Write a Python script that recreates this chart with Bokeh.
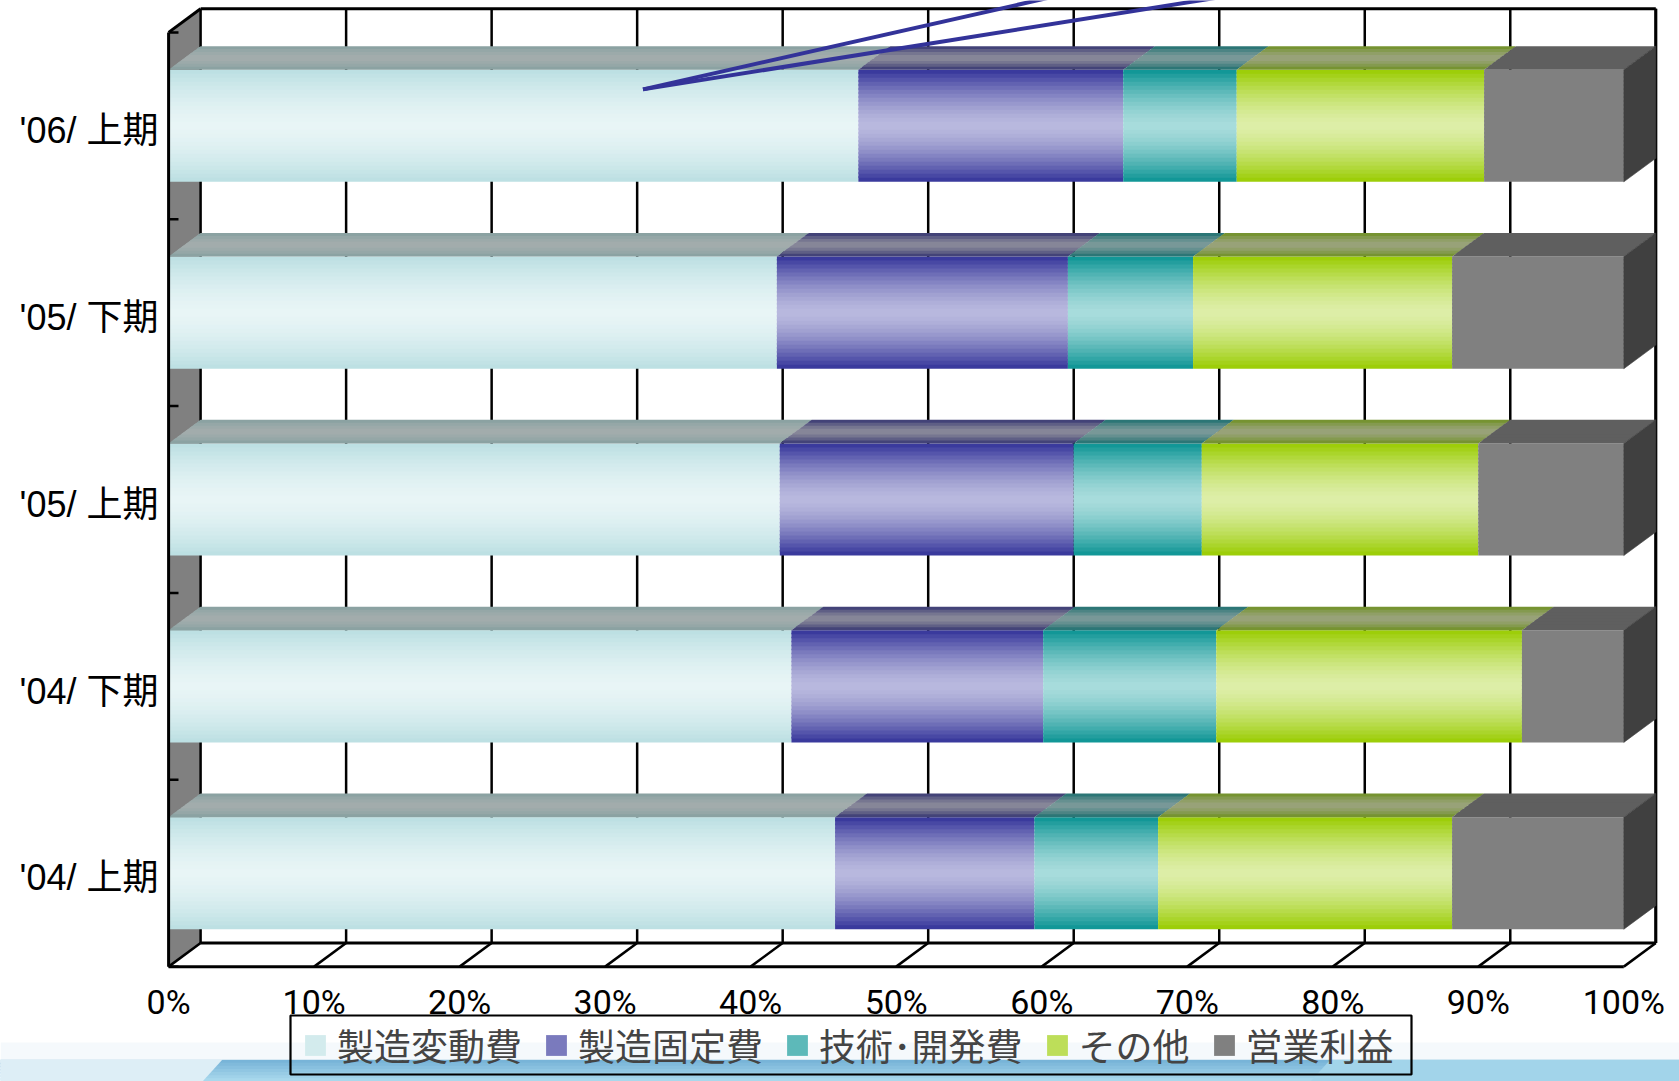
import numpy as np
from bokeh.plotting import figure
from bokeh.models import Range1d, ColumnDataSource, Legend, LegendItem
from bokeh.core.properties import value
from bokeh.embed import file_html
from bokeh.resources import INLINE

# ---- data: cost structure share (%) per half-year, bottom row first ----
categories = ["'04/ 上期", "'04/ 下期", "'05/ 上期", "'05/ 下期", "'06/ 上期"]
series_names = ["製造変動費", "製造固定費", "技術･開発費", "その他", "営業利益"]
variable_mfg = [45.8, 42.8, 42.0, 41.8, 47.4]
fixed_mfg = [13.7, 17.3, 20.2, 20.0, 18.2]
rnd_cost = [8.5, 11.9, 8.8, 8.6, 7.8]
other_cost = [20.2, 21.0, 19.0, 17.8, 17.0]
op_profit = [11.8, 7.0, 10.0, 11.8, 9.6]
x_ticks = list(range(0, 101, 10))
x_tick_labels = [f"{t}%" for t in x_ticks]

series_values = [variable_mfg, fixed_mfg, rnd_cost, other_cost, op_profit]

# face colours: (edge, centre) for front faces and top faces
front_colors = [("#BBDFE2", "#E8F5F6"), ("#333399", "#B9B9DE"), ("#0A9393", "#A8DCDC"),
                ("#99CC00", "#DDEEA8"), ("#808080", "#808080")]
top_colors = [("#86A0A0", "#A3ADAD"), ("#333370", "#8A8A9A"), ("#1A6E6E", "#7C9A9A"),
              ("#6E9020", "#9AA37C"), ("#5F5F5F", "#5F5F5F")]
side_color = "#404040"

# ---- canvas geometry (front plane in %, categories as integer rows) ----
W, H = 1679, 1081
X0_PX, PX_PER_PCT = 168.1, 14.552
Y0_PX, PX_PER_CAT = 872.7, 186.85
DX = 32.0 / PX_PER_PCT          # depth offset along x
DY = 23.6 / PX_PER_CAT          # depth offset along y
HALF = 0.3                      # half bar thickness
FLOOR, CEIL = -0.5, len(categories) - 0.5


def px_x(px):
    return (px - X0_PX) / PX_PER_PCT


def px_y(py):
    return (Y0_PX - py) / PX_PER_CAT


def hex_rgb(h):
    h = h.lstrip("#")
    return np.array([int(h[i:i + 2], 16) for i in (0, 2, 4)], float)


def mix(c_edge, c_mid, f):
    a, b = hex_rgb(c_edge), hex_rgb(c_mid)
    c = b + (a - b) * f
    return "#%02x%02x%02x" % tuple(int(round(v)) for v in c)


def shade(k, n):
    t = abs((k + 0.5) / n * 2 - 1)
    return t ** 1.5


p = figure(width=W, height=H,
           x_range=Range1d(px_x(0), px_x(W)), y_range=Range1d(px_y(H), px_y(0)),
           x_axis_type=None, y_axis_type=None, toolbar_location=None,
           output_backend="svg", min_border=0, outline_line_color=None,
           background_fill_color="white", border_fill_color="white")

# ---- backdrop band along the bottom edge ----
BAND_TOP = 1059
n_band = 7
bxs, bys, bcs = [], [], []
for i in range(n_band):
    y0 = BAND_TOP + (H - BAND_TOP) * i / n_band
    y1 = BAND_TOP + (H - BAND_TOP) * (i + 1) / n_band + 1.5
    bxs.append([px_x(0), px_x(W), px_x(W), px_x(0)])
    bys.append([px_y(y0), px_y(y0), px_y(y1), px_y(y1)])
    bcs.append(mix("#78B4D8", "#A8D8EC", 1 - i / (n_band - 1)))
# pale left end and lighter right end of the band
bxs += [[px_x(0), px_x(222), px_x(202), px_x(0)],
        [px_x(1330), px_x(W), px_x(W), px_x(1310)]]
bys += [[px_y(BAND_TOP), px_y(BAND_TOP), px_y(H), px_y(H)]] * 2
bcs += ["#DDEEF6", "#A2D4EA"]
p.patches(bxs, bys, fill_color=bcs, line_color=None)
p.patches([[px_x(0), px_x(W), px_x(W), px_x(0)]],
          [[px_y(1042), px_y(1042), px_y(BAND_TOP), px_y(BAND_TOP)]],
          fill_color="#F5F9FC", line_color=None)

# ---- walls and floor ----
p.patch([0, 0, DX, DX], [FLOOR, CEIL, CEIL + DY, FLOOR + DY],
        fill_color="#808080", line_color=None)

grid_xs = [[t + DX, t + DX] for t in x_ticks]
grid_ys = [[FLOOR + DY, CEIL + DY] for _ in x_ticks]
p.multi_line(grid_xs, grid_ys, line_color="black", line_width=2.5)

floor_xs = [[t, t + DX] for t in x_ticks]
floor_ys = [[FLOOR, FLOOR + DY] for _ in x_ticks]
p.multi_line(floor_xs, floor_ys, line_color="black", line_width=2.5)

frame_xs = [[DX, 100 + DX], [DX, 100 + DX], [0, 100], [100 + DX, 100 + DX], [0, DX]]
frame_ys = [[CEIL + DY, CEIL + DY], [FLOOR + DY, FLOOR + DY], [FLOOR, FLOOR],
            [FLOOR + DY, CEIL + DY], [CEIL, CEIL + DY]]
p.multi_line(frame_xs, frame_ys, line_color="black", line_width=3)

# ---- stacked 3-D bars (gradients built from thin overlapping bands) ----
N_FRONT, N_TOP = 28, 8
OVER_Y = 1.6 / PX_PER_CAT
starts = np.zeros(len(categories))
front_renderers = []
for s, vals in enumerate(series_values):
    vals = np.array(vals, float)
    left, right = starts.copy(), starts + vals
    starts = right
    fe, fm = front_colors[s]
    te, tm = top_colors[s]

    fq = dict(left=[], right=[], bottom=[], top=[], color=[])
    for c in range(len(categories)):
        for k in range(N_FRONT):
            b0 = c - HALF + 2 * HALF * k / N_FRONT
            b1 = b0 + 2 * HALF / N_FRONT + (OVER_Y if k < N_FRONT - 1 else 0)
            fq["left"].append(left[c])
            fq["right"].append(right[c])
            fq["bottom"].append(b0)
            fq["top"].append(b1)
            fq["color"].append(mix(fe, fm, shade(k, N_FRONT)))
    r = p.quad(left="left", right="right", bottom="bottom", top="top",
               fill_color="color", line_color=None, source=ColumnDataSource(fq))
    front_renderers.append(r)

    txs, tys, tcs = [], [], []
    for c in range(len(categories)):
        y0 = c + HALF
        for j in range(N_TOP):
            f0 = j / N_TOP
            f1 = min(1.0, (j + 1) / N_TOP + 0.09)
            txs.append([left[c] + DX * f0, right[c] + DX * f0, right[c] + DX * f1, left[c] + DX * f1])
            tys.append([y0 + DY * f0, y0 + DY * f0, y0 + DY * f1, y0 + DY * f1])
            tcs.append(mix(te, tm, shade(j, N_TOP)))
    p.patches(txs, tys, fill_color=tcs, line_color=None)

# right end faces of the last segment
end_xs = [[100, 100 + DX, 100 + DX, 100] for _ in categories]
end_ys = [[c - HALF, c - HALF + DY, c + HALF + DY, c + HALF] for c in range(len(categories))]
p.patches(end_xs, end_ys, fill_color=side_color, line_color=side_color, line_width=0.6)

# ---- front vertical axis line and its ticks ----
p.line([0, 0], [FLOOR, CEIL], line_color="black", line_width=3)
bounds = [c + 0.5 for c in range(-1, len(categories))]
p.multi_line([[0, 0.68] for _ in bounds], [[b, b] for b in bounds],
             line_color="black", line_width=2.5)

# ---- labels ----
p.text(x=x_ticks, y=[px_y(1001)] * len(x_ticks), text=x_tick_labels,
       text_align="center", text_baseline="middle",
       text_font=value("Roboto"), text_font_size="34px", text_color="black")

p.text(x=[px_x(158)] * len(categories), y=[c - 0.025 for c in range(len(categories))],
       text=categories, text_align="right", text_baseline="middle",
       text_font=value("'Liberation Sans', 'Noto Sans CJK JP', sans-serif"),
       text_font_size="36px", text_color="black")

# ---- callout leader lines running off the top edge ----
callout_start = (px_x(642.5), px_y(88.9))
callout_ends = [(px_x(1036), px_y(0)), (px_x(1199), px_y(0))]
lx, ly = [], []
for ex, ey in callout_ends:
    sx, sy = callout_start
    k = 2.0
    lx.append([sx, sx + (ex - sx) * k])
    ly.append([sy, sy + (ey - sy) * k])
p.multi_line(lx, ly, line_color="#333399", line_width=4)

# ---- legend: frame drawn as a box, entries laid out by the Legend ----
p.quad(left=[px_x(290)], right=[px_x(1411)], top=[px_y(1015)], bottom=[px_y(1074)],
       fill_color=None, line_color="black", line_width=2.2)

items = [LegendItem(label=name, renderers=[front_renderers[i]], index=N_FRONT // 5)
         for i, name in enumerate(series_names)]
legend = Legend(items=items, orientation="horizontal", location=(299, 6),
                label_text_font="Noto Sans CJK JP", label_text_font_size="37px",
                glyph_width=26, glyph_height=26, label_standoff=9, spacing=21,
                padding=3, margin=0, border_line_alpha=0, background_fill_alpha=0)
p.add_layout(legend)

open("out.html", "w").write(file_html(p, INLINE))
